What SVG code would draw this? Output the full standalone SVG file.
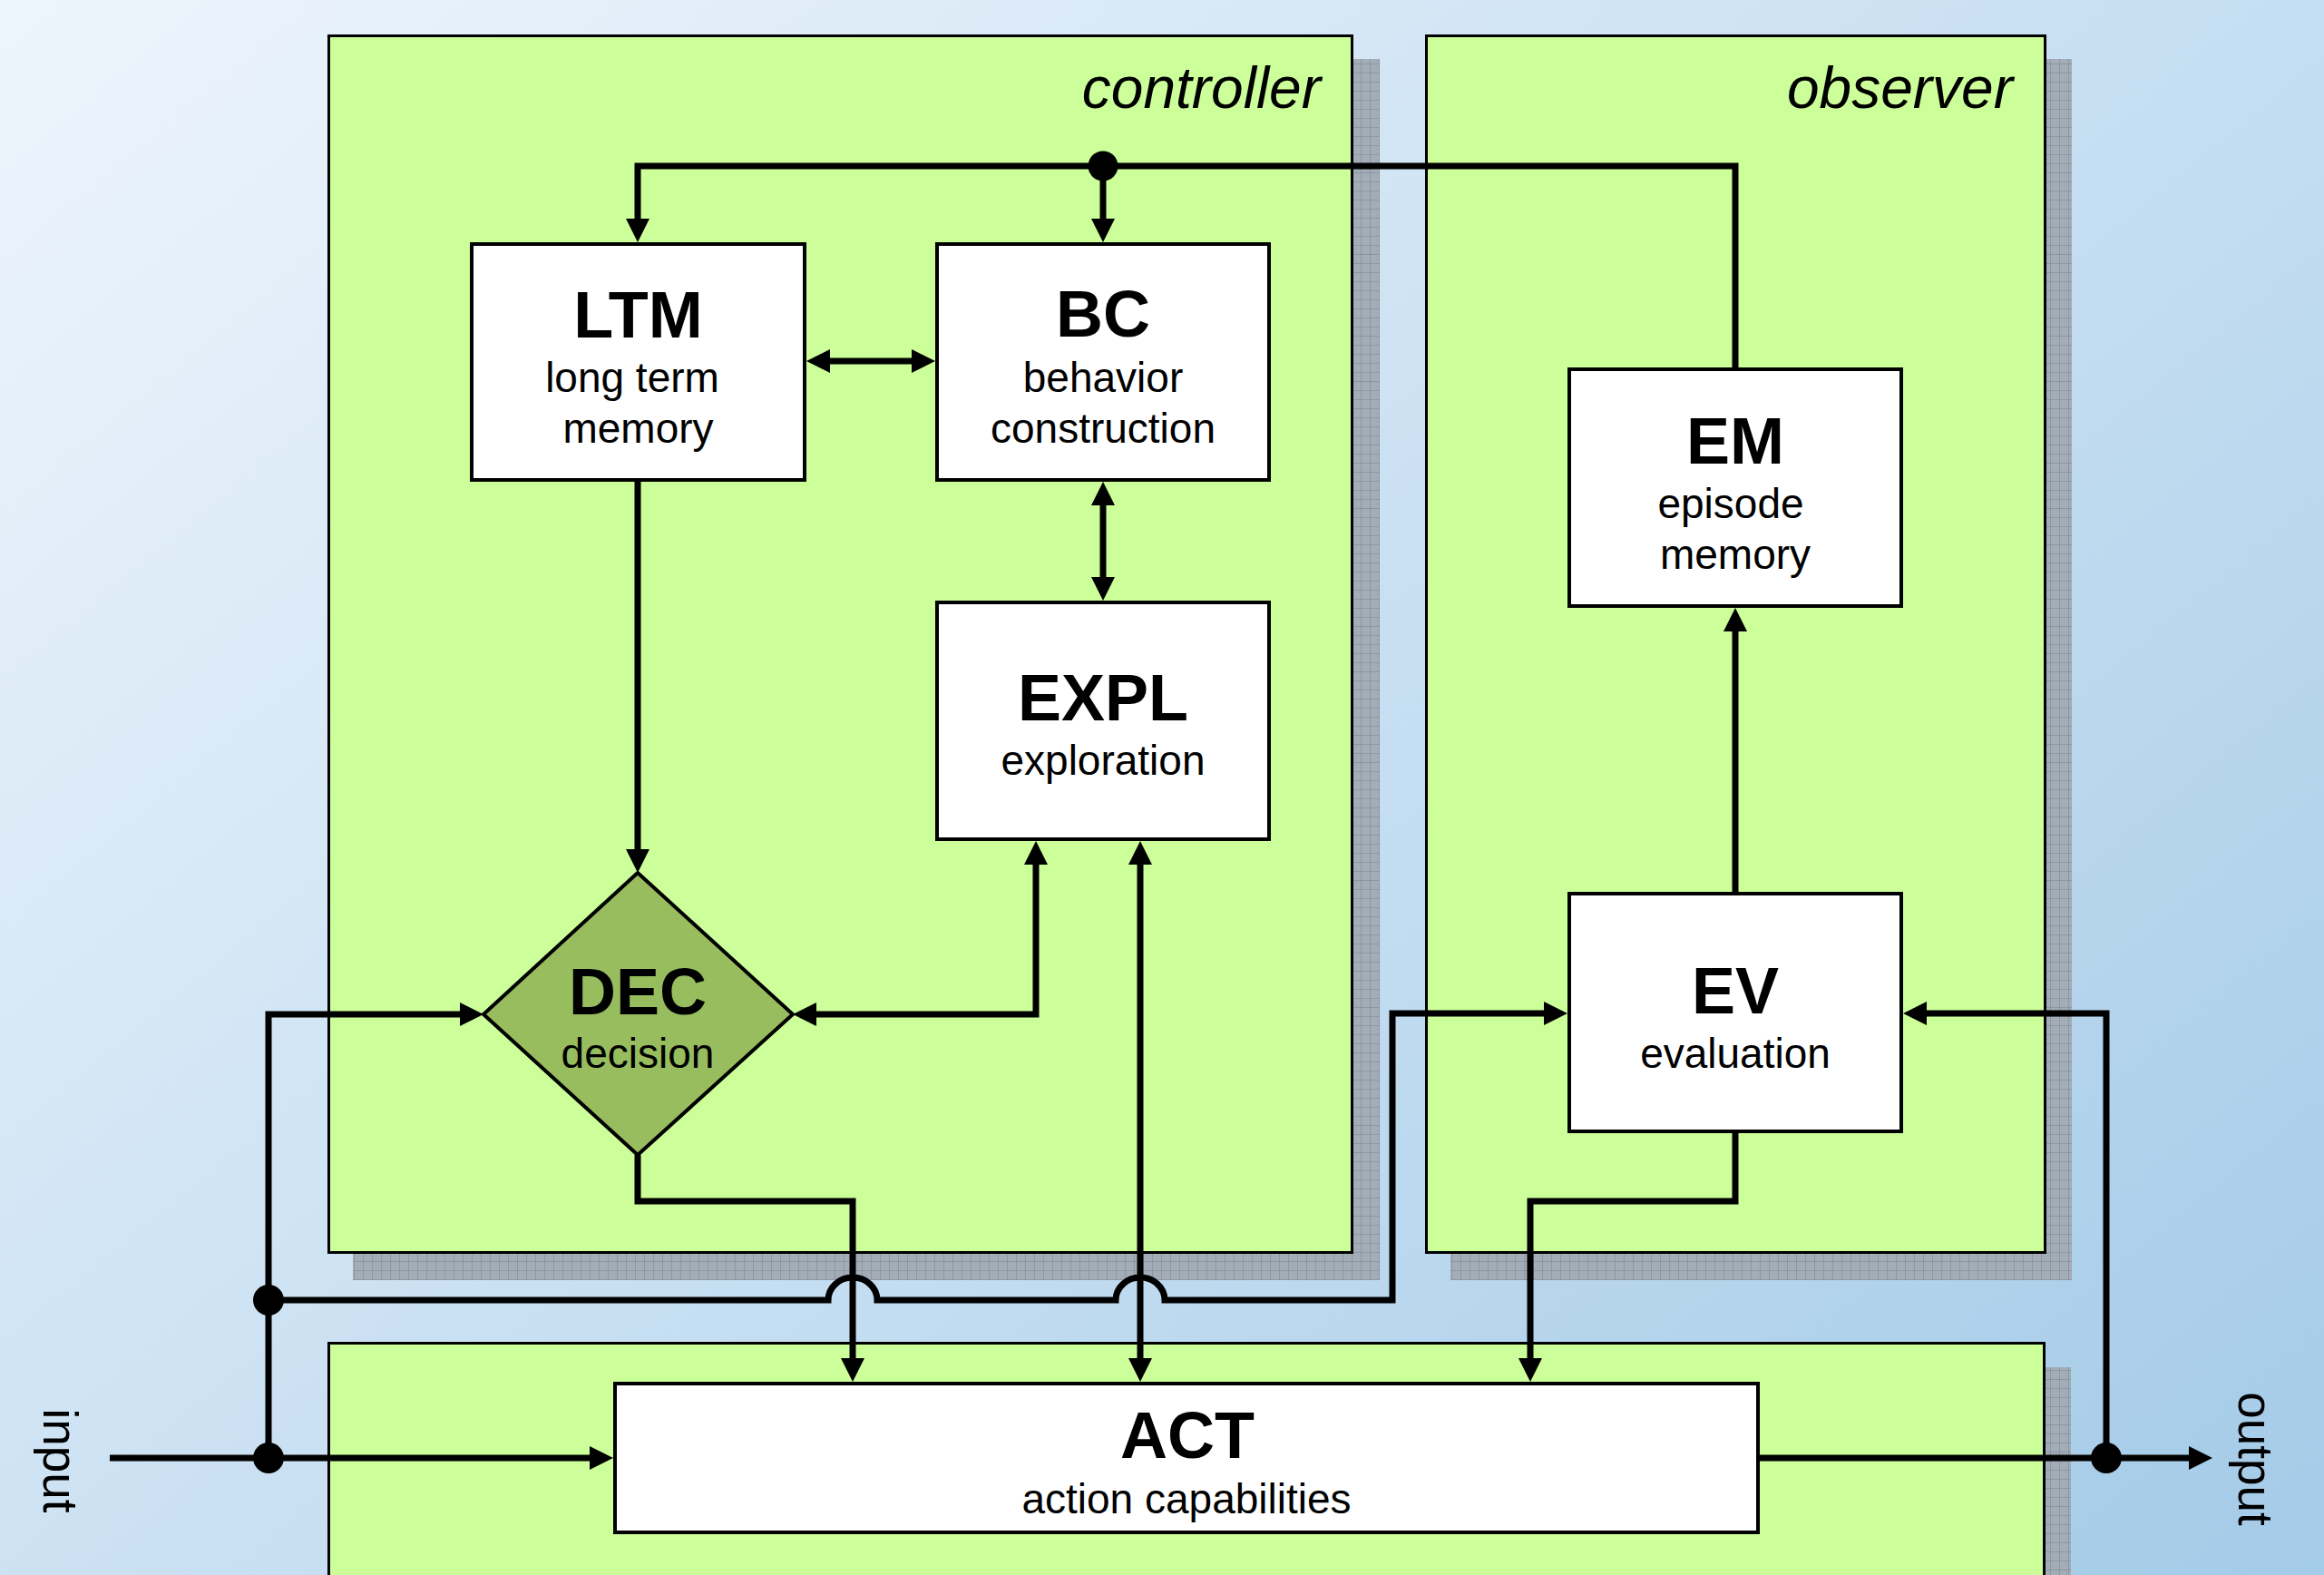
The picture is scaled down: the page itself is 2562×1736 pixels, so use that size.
<svg xmlns="http://www.w3.org/2000/svg" width="2562" height="1736" viewBox="0 0 2562 1736">
  <defs>
    <linearGradient id="bg" gradientUnits="userSpaceOnUse" x1="0" y1="0" x2="1894" y2="2273">
      <stop offset="0" stop-color="#eef5fc"/>
      <stop offset="1" stop-color="#a4cbe8"/>
    </linearGradient>
    <pattern id="hatch" patternUnits="userSpaceOnUse" width="10" height="10">
      <rect width="10" height="10" fill="#a3adb7"/>
      <path d="M0,0.5H10M0.5,0V10" stroke="#8d97a1" stroke-width="1" fill="none"/>
    </pattern>
    <marker id="arrow" viewBox="0 0 26 26" refX="16" refY="13" markerWidth="26" markerHeight="26" markerUnits="userSpaceOnUse" orient="auto-start-reverse">
      <path d="M0,0L26,13L0,26Z" fill="#000"/>
    </marker>
  </defs>
  <style>
    .container { fill: #ccff99; stroke: #000; stroke-width: 3; }
    .shadow { fill: url(#hatch); }
    .box { fill: #ffffff; stroke: #000; stroke-width: 4; }
    .diamond { fill: #97bd5e; stroke: #000; stroke-width: 4; }
    .title { font-family: "Liberation Sans", Arial, sans-serif; font-size: 72px; font-weight: bold; text-anchor: middle; fill: #000; }
    .sub { font-family: "Liberation Sans", Arial, sans-serif; font-size: 46px; text-anchor: middle; fill: #000; }
    .group-label { font-family: "Liberation Sans", Arial, sans-serif; font-size: 64px; font-style: italic; text-anchor: end; fill: #000; }
    .io { font-family: "Liberation Sans", Arial, sans-serif; font-size: 53px; text-anchor: middle; fill: #000; }
    .wire { fill: none; stroke: #000; stroke-width: 7; stroke-linejoin: miter; }
    .arrow { marker-end: url(#arrow); }
    .both { marker-start: url(#arrow); marker-end: url(#arrow); }
    .dot { fill: #000; }
  </style>

  <!-- background -->
  <rect x="0" y="0" width="2562" height="1736" fill="url(#bg)"/>

  <!-- container panels with drop shadows -->
  <g id="controller">
    <rect class="shadow" x="389" y="65" width="1132" height="1346"/>
    <rect class="container" x="362.5" y="39.5" width="1128" height="1341"/>
    <text class="group-label" x="1456" y="119">controller</text>
  </g>
  <g id="observer">
    <rect class="shadow" x="1599" y="65" width="685" height="1346"/>
    <rect class="container" x="1572.5" y="39.5" width="682" height="1341"/>
    <text class="group-label" x="2219" y="119">observer</text>
  </g>
  <g id="action-panel">
    <rect class="shadow" x="389" y="1507" width="1894" height="260"/>
    <rect class="container" x="362.5" y="1480.5" width="1891" height="260"/>
  </g>

  <!-- connectors -->
  <g id="connectors">
    <!-- episode memory feedback bus to LTM and BC -->
    <path class="wire arrow" d="M1913,405V183H703V257"/>
    <path class="wire arrow" d="M1216,183V257"/>
    <!-- LTM <-> BC -->
    <path class="wire both" d="M899,398H1021"/>
    <!-- BC <-> EXPL -->
    <path class="wire both" d="M1216,541V652"/>
    <!-- LTM -> DEC -->
    <path class="wire arrow" d="M703,531V952"/>
    <!-- input branch -> DEC -->
    <path class="wire arrow" d="M296,1607V1118H523"/>
    <!-- DEC <-> EXPL -->
    <path class="wire both" d="M884,1118H1142V937"/>
    <!-- EXPL <-> ACT -->
    <path class="wire both" d="M1257,937V1513"/>
    <!-- DEC -> ACT -->
    <path class="wire arrow" d="M703,1273V1324H940V1513"/>
    <!-- EV -> ACT -->
    <path class="wire arrow" d="M1913,1249V1324H1687V1513"/>
    <!-- input bus to EV, hopping over the two crossings -->
    <path class="wire arrow" d="M296,1433H913A27,25 0 0 1 967,1433H1230A27,25 0 0 1 1284,1433H1535V1117H1718"/>
    <!-- EV -> EM -->
    <path class="wire arrow" d="M1913,983V680"/>
    <!-- input -> ACT -->
    <path class="wire arrow" d="M121,1607H666"/>
    <!-- ACT -> output -->
    <path class="wire arrow" d="M1940,1607H2429"/>
    <!-- output feedback -> EV -->
    <path class="wire arrow" d="M2322,1607V1117H2108"/>
    <!-- junction dots -->
    <circle class="dot" cx="1216" cy="183" r="16.5"/>
    <circle class="dot" cx="296" cy="1433" r="17"/>
    <circle class="dot" cx="296" cy="1607" r="17"/>
    <circle class="dot" cx="2322" cy="1607" r="17"/>
  </g>

  <!-- nodes -->
  <g id="LTM">
    <rect class="box" x="520" y="269" width="367" height="260"/>
    <text class="title" x="703.5" y="372">LTM</text>
    <text class="sub" x="697" y="432">long term</text>
    <text class="sub" x="703.5" y="488">memory</text>
  </g>
  <g id="BC">
    <rect class="box" x="1033" y="269" width="366" height="260"/>
    <text class="title" x="1216" y="371">BC</text>
    <text class="sub" x="1216" y="432">behavior</text>
    <text class="sub" x="1216" y="488">construction</text>
  </g>
  <g id="EXPL">
    <rect class="box" x="1033" y="664" width="366" height="261"/>
    <text class="title" x="1216" y="794">EXPL</text>
    <text class="sub" x="1216" y="854">exploration</text>
  </g>
  <g id="DEC">
    <polygon class="diamond" points="703,962 874,1118 703,1273 533,1118"/>
    <text class="title" x="703" y="1118">DEC</text>
    <text class="sub" x="703" y="1177">decision</text>
  </g>
  <g id="EM">
    <rect class="box" x="1730" y="407" width="366" height="261"/>
    <text class="title" x="1913" y="511">EM</text>
    <text class="sub" x="1908" y="571">episode</text>
    <text class="sub" x="1913" y="627">memory</text>
  </g>
  <g id="EV">
    <rect class="box" x="1730" y="985" width="366" height="262"/>
    <text class="title" x="1913" y="1117">EV</text>
    <text class="sub" x="1913" y="1177">evaluation</text>
  </g>
  <g id="ACT">
    <rect class="box" x="678" y="1525" width="1260" height="164"/>
    <text class="title" x="1309" y="1607">ACT</text>
    <text class="sub" x="1308" y="1668">action capabilities</text>
  </g>

  <!-- side labels -->
  <g id="input-label">
    <text class="io" transform="translate(48,1610) rotate(90)">input</text>
  </g>
  <g id="output-label">
    <text class="io" transform="translate(2468,1608) rotate(90)">output</text>
  </g>
</svg>
